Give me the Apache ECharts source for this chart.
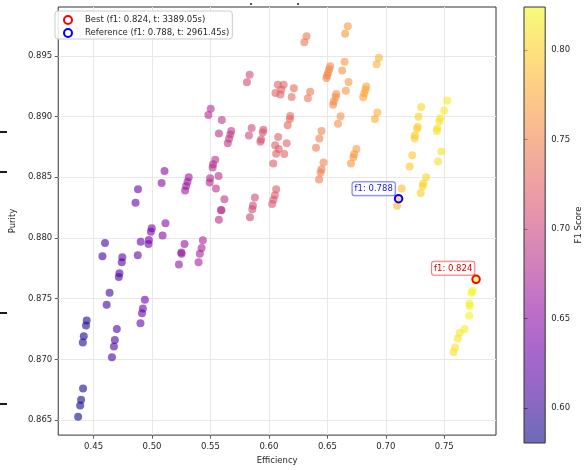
<!DOCTYPE html>
<html>
<head>
<meta charset="utf-8">
<script src="https://cdn.jsdelivr.net/npm/echarts@6/dist/echarts.min.js"></script>
<style>
html,body{margin:0;padding:0;background:#fff;}
#chart{width:584px;height:470px;}
</style>
</head>
<body>
<div id="chart"></div>
<script>
// ---------------- data ----------------
const efficiency = [
0.4368,0.4385,0.4393,0.4410,0.4408,0.4416,0.4435,0.4441,0.4576,0.4598,
0.4612,0.4637,0.4657,0.4674,0.4682,0.4699,0.4716,0.4721,0.4741,0.4746,
0.4859,0.4880,0.4878,0.4903,0.4901,0.4914,0.4922,0.4939,0.4973,0.4970,
0.4990,0.4998,0.5090,0.5115,0.5082,0.5107,0.5230,0.5253,0.5250,0.5278,
0.5283,0.5292,0.5304,0.5314,0.5398,0.5409,0.5424,0.5435,0.5497,0.5493,
0.5518,0.5522,0.5541,0.5569,0.5547,0.5572,0.5594,0.5590,0.5619,0.5502,
0.5482,0.5597,0.5572,0.5678,0.5670,0.5659,0.5648,0.5835,0.5812,0.5852,
0.5829,0.5838,0.5858,0.5863,0.5880,0.5953,0.5947,0.5933,0.5927,0.6076,
0.6126,0.6106,0.6056,0.6098,0.6079,0.6053,0.6084,0.6062,0.6037,0.6152,
0.6131,0.6062,0.6051,0.6039,0.6028,0.6182,0.6179,0.6160,0.6213,0.6194,
0.6353,0.6333,0.6322,0.6303,0.6675,0.6652,0.6941,0.6921,0.6647,0.6627,
0.6524,0.6515,0.6507,0.6498,0.6492,0.6681,0.6658,0.6576,0.6571,0.6555,
0.6549,0.6832,0.6826,0.6815,0.6806,0.6613,0.6591,0.6928,0.6907,0.6450,
0.6431,0.6403,0.6467,0.6450,0.6442,0.6429,0.6748,0.6728,0.6723,0.6702,
0.7302,0.7279,0.7273,0.7268,0.7248,0.7246,0.7226,0.7204,0.7525,0.7498,
0.7464,0.7458,0.7441,0.7436,0.7475,0.7447,0.7344,0.7321,0.7315,0.7298,
0.7136,0.7109,0.7097,0.7772,0.7744,0.7733,0.7716,0.7718,0.7713,0.7674,
0.7632,0.7615,0.7592,0.7579];

const purity = [
0.86527,0.86619,0.86667,0.86759,0.87139,0.87190,0.87279,0.87320,0.87850,0.87959,
0.87449,0.87549,0.87017,0.87106,0.87160,0.87250,0.87678,0.87710,0.87799,0.87840,
0.88290,0.88400,0.87858,0.87969,0.87298,0.87379,0.87419,0.87490,0.87983,0.87951,
0.88050,0.88080,0.88020,0.88120,0.88452,0.88551,0.87781,0.87870,0.87880,0.87951,
0.88390,0.88428,0.88462,0.88500,0.87799,0.87870,0.87918,0.87980,0.88492,0.88457,
0.88581,0.88606,0.88643,0.88511,0.88408,0.88150,0.88228,0.88230,0.88319,0.89063,
0.89012,0.88972,0.88861,0.88881,0.88851,0.88816,0.88780,0.89344,0.89282,0.88905,
0.88843,0.88171,0.88236,0.88268,0.88333,0.88891,0.88869,0.88810,0.88792,0.89261,
0.89261,0.89223,0.89193,0.89182,0.88832,0.88764,0.88732,0.88693,0.88612,0.88780,
0.88691,0.88400,0.88352,0.88314,0.88279,0.89004,0.88980,0.88929,0.89233,0.89160,
0.89204,0.89150,0.89662,0.89611,0.89743,0.89681,0.89484,0.89430,0.89451,0.89379,
0.89414,0.89390,0.89360,0.89338,0.89317,0.89285,0.89212,0.89185,0.89160,0.89123,
0.89096,0.89247,0.89220,0.89190,0.89158,0.89002,0.88940,0.89034,0.88980,0.88881,
0.88818,0.88743,0.88622,0.88565,0.88538,0.88481,0.88732,0.88689,0.88665,0.88614,
0.89079,0.88999,0.88915,0.88899,0.88843,0.88821,0.88681,0.88589,0.89131,0.89050,
0.88986,0.88961,0.88902,0.88881,0.88711,0.88630,0.88500,0.88449,0.88426,0.88370,
0.88408,0.88323,0.88266,0.87659,0.87565,0.87549,0.87460,0.87440,0.87360,0.87250,
0.87220,0.87171,0.87098,0.87058];

const f1Score = [
0.5805,0.5822,0.5831,0.5848,0.5854,0.5863,0.5881,0.5888,0.6018,0.6039,
0.6039,0.6063,0.6067,0.6084,0.6092,0.6108,0.6133,0.6138,0.6157,0.6163,
0.6268,0.6288,0.6273,0.6296,0.6278,0.6290,0.6298,0.6314,0.6354,0.6351,
0.6370,0.6377,0.6450,0.6473,0.6455,0.6478,0.6555,0.6575,0.6573,0.6597,
0.6613,0.6621,0.6632,0.6641,0.6686,0.6696,0.6709,0.6719,0.6781,0.6777,
0.6800,0.6804,0.6819,0.6836,0.6817,0.6828,0.6847,0.6844,0.6868,0.6802,
0.6785,0.6871,0.6849,0.6929,0.6922,0.6913,0.6904,0.7059,0.7041,0.7058,
0.7039,0.7025,0.7041,0.7046,0.7060,0.7131,0.7126,0.7114,0.7109,0.7230,
0.7266,0.7250,0.7214,0.7243,0.7218,0.7198,0.7218,0.7202,0.7181,0.7268,
0.7250,0.7192,0.7183,0.7173,0.7164,0.7296,0.7293,0.7278,0.7325,0.7310,
0.7421,0.7405,0.7415,0.7401,0.7656,0.7638,0.7818,0.7803,0.7627,0.7611,
0.7544,0.7537,0.7530,0.7524,0.7519,0.7643,0.7625,0.7570,0.7566,0.7554,
0.7549,0.7739,0.7735,0.7726,0.7719,0.7588,0.7571,0.7792,0.7777,0.7475,
0.7460,0.7439,0.7478,0.7464,0.7458,0.7447,0.7666,0.7652,0.7648,0.7632,
0.8025,0.8008,0.8001,0.7997,0.7983,0.7981,0.7963,0.7946,0.8160,0.8141,
0.8118,0.8114,0.8101,0.8098,0.8113,0.8093,0.8027,0.8011,0.8006,0.7994,
0.7898,0.7878,0.7868,0.8239,0.8219,0.8212,0.8199,0.8199,0.8193,0.8166,
0.8141,0.8129,0.8113,0.8103];

const bestPoint = [0.7772, 0.87659];
const bestF1 = 0.824;
const bestTime = "3389.05s";
const refPoint = [0.7109, 0.88323];
const refF1 = 0.788;
const refTime = "2961.45s";

const xTicks = [0.45, 0.50, 0.55, 0.60, 0.65, 0.70, 0.75];
const yTicks = [0.865, 0.870, 0.875, 0.880, 0.885, 0.890, 0.895];
const cbTicks = [0.60, 0.65, 0.70, 0.75, 0.80];

const xRange = [0.41977, 0.79425];
const yRange = [0.86376, 0.89902];
const f1Min = Math.min.apply(null, f1Score);
const f1Max = Math.max.apply(null, f1Score);

// ------------- style -------------
const PLASMA = ['#0d0887','#41049d','#6a00a8','#8f0da4','#b12a90','#cc4778',
                '#e16462','#f2844b','#fca636','#fcce25','#f0f921'];
const FONT = 'DejaVu Sans';
const TXT = '#262626';
const FS = 8.5;

const points = efficiency.map((e, i) => [e, purity[i], f1Score[i]]);
const bestName = 'Best (f1: ' + bestF1.toFixed(3) + ', t: ' + bestTime + ')';
const refName = 'Reference (f1: ' + refF1.toFixed(3) + ', t: ' + refTime + ')';

const chart = echarts.init(document.getElementById('chart'), null, {renderer: 'canvas'});

function ring(color) {
  return {color: 'rgba(0,0,0,0)', borderColor: color, borderWidth: 2, opacity: 1};
}
function annot(text, color, borderColor, offset) {
  return {
    show: true, formatter: text, position: 'left', distance: 0, offset: offset,
    color: color, fontSize: FS, fontFamily: FONT,
    backgroundColor: 'rgba(255,255,255,0.85)', borderColor: borderColor, borderWidth: 1,
    borderRadius: 2, padding: [2, 2, 1, 2], lineHeight: 10
  };
}

const option = {
  animation: false,
  backgroundColor: '#ffffff',
  textStyle: {fontFamily: FONT},
  grid: [
    {left: 50, right: 88, top: 7, bottom: 27, show: true, borderColor: '#333', borderWidth: 1,
     backgroundColor: 'rgba(0,0,0,0)'},
    {left: 524, width: 22, top: 7, bottom: 27, show: true, borderColor: '#333', borderWidth: 1,
     backgroundColor: 'rgba(0,0,0,0)', z: 5}
  ],
  xAxis: [
    {type: 'value', gridIndex: 0, min: xRange[0], max: xRange[1],
     name: 'Efficiency', nameLocation: 'middle', nameGap: 20,
     nameTextStyle: {fontSize: FS, color: TXT, fontFamily: FONT},
     axisLine: {show: false},
     axisTick: {show: true, customValues: xTicks, length: 3.5, lineStyle: {color: '#333', width: 0.8}},
     axisLabel: {customValues: xTicks, formatter: v => v.toFixed(2), fontSize: FS, color: TXT, margin: 7, fontFamily: FONT},
     splitLine: {show: true, lineStyle: {color: '#e8e8e8', width: 1}}},
    {type: 'value', gridIndex: 1, min: 0, max: 1, show: false}
  ],
  yAxis: [
    {type: 'value', gridIndex: 0, min: yRange[0], max: yRange[1],
     name: 'Purity', nameLocation: 'middle', nameGap: 32,
     nameTextStyle: {fontSize: FS, color: TXT, fontFamily: FONT},
     axisLine: {show: false},
     axisTick: {show: true, customValues: yTicks, length: 3.5, lineStyle: {color: '#333', width: 0.8}},
     axisLabel: {customValues: yTicks, formatter: v => v.toFixed(3), fontSize: FS, color: TXT, margin: 6, fontFamily: FONT},
     splitLine: {show: true, lineStyle: {color: '#e8e8e8', width: 1}}},
    {type: 'value', gridIndex: 1, min: f1Min, max: f1Max, position: 'right',
     name: 'F1 Score', nameLocation: 'middle', nameGap: 25, nameRotate: 90,
     nameTextStyle: {fontSize: FS, color: TXT, fontFamily: FONT},
     axisLine: {show: false},
     axisTick: {show: true, customValues: cbTicks, length: 3.5, lineStyle: {color: '#333', width: 0.8}},
     axisLabel: {customValues: cbTicks, formatter: v => v.toFixed(2), fontSize: FS, color: TXT, margin: 6, fontFamily: FONT},
     splitLine: {show: false}}
  ],
  visualMap: [{
    show: false, type: 'continuous', seriesIndex: 0, dimension: 2,
    min: f1Min, max: f1Max, inRange: {color: PLASMA}
  }],
  legend: {
    data: [
      {name: bestName, icon: 'circle', itemStyle: ring('#ff0000')},
      {name: refName, icon: 'circle', itemStyle: ring('#0000ff')}
    ],
    orient: 'vertical', left: 55, top: 11,
    itemWidth: 20, itemHeight: 8, itemGap: 3, padding: [4, 3, 1, 8],
    backgroundColor: 'rgba(255,255,255,0.85)', borderColor: '#cccccc', borderWidth: 1, borderRadius: 3,
    textStyle: {fontSize: FS, color: TXT, fontFamily: FONT, lineHeight: 10, padding: [0, 0, 0, 2]},
    selectedMode: false
  },
  series: [
    {type: 'scatter', xAxisIndex: 0, yAxisIndex: 0, data: points, symbolSize: 8,
     itemStyle: {opacity: 0.6}, silent: true, z: 2},
    {type: 'scatter', name: bestName, xAxisIndex: 0, yAxisIndex: 0, data: [bestPoint],
     symbolSize: 7.5, itemStyle: ring('#ff0000'), z: 3, silent: true,
     label: annot('f1: ' + bestF1.toFixed(3), '#e00000', 'rgba(255,0,0,0.55)', [3, -11])},
    {type: 'scatter', name: refName, xAxisIndex: 0, yAxisIndex: 0, data: [refPoint],
     symbolSize: 7.5, itemStyle: ring('#0000ff'), z: 3, silent: true,
     label: annot('f1: ' + refF1.toFixed(3), '#2020e0', 'rgba(0,0,255,0.55)', [1, -10])},
    {type: 'custom', xAxisIndex: 1, yAxisIndex: 1, silent: true, z: 2,
     data: [[0, f1Min]],
     renderItem: function (params, api) {
       const p0 = api.coord([0, f1Min]);
       const p1 = api.coord([1, f1Max]);
       const stops = PLASMA.map((c, i) => ({offset: i / (PLASMA.length - 1), color: c}));
       return {
         type: 'rect',
         shape: {x: p0[0], y: p1[1], width: p1[0] - p0[0], height: p0[1] - p1[1]},
         style: {fill: new echarts.graphic.LinearGradient(0, 1, 0, 0, stops), opacity: 0.6}
       };
     }}
  ],
  graphic: [
    {type: 'rect', left: 0, top: 131, shape: {width: 7, height: 2}, style: {fill: '#1a1a1a'}},
    {type: 'rect', left: 0, top: 171, shape: {width: 7, height: 2}, style: {fill: '#1a1a1a'}},
    {type: 'rect', left: 0, top: 312, shape: {width: 7, height: 2}, style: {fill: '#1a1a1a'}},
    {type: 'rect', left: 0, top: 403, shape: {width: 7, height: 2}, style: {fill: '#1a1a1a'}},
    {type: 'rect', left: 250, top: 3, shape: {width: 2, height: 2}, style: {fill: '#555'}},
    {type: 'rect', left: 297, top: 3, shape: {width: 2, height: 2}, style: {fill: '#555'}}
  ]
};
chart.setOption(option);
</script>
</body>
</html>
